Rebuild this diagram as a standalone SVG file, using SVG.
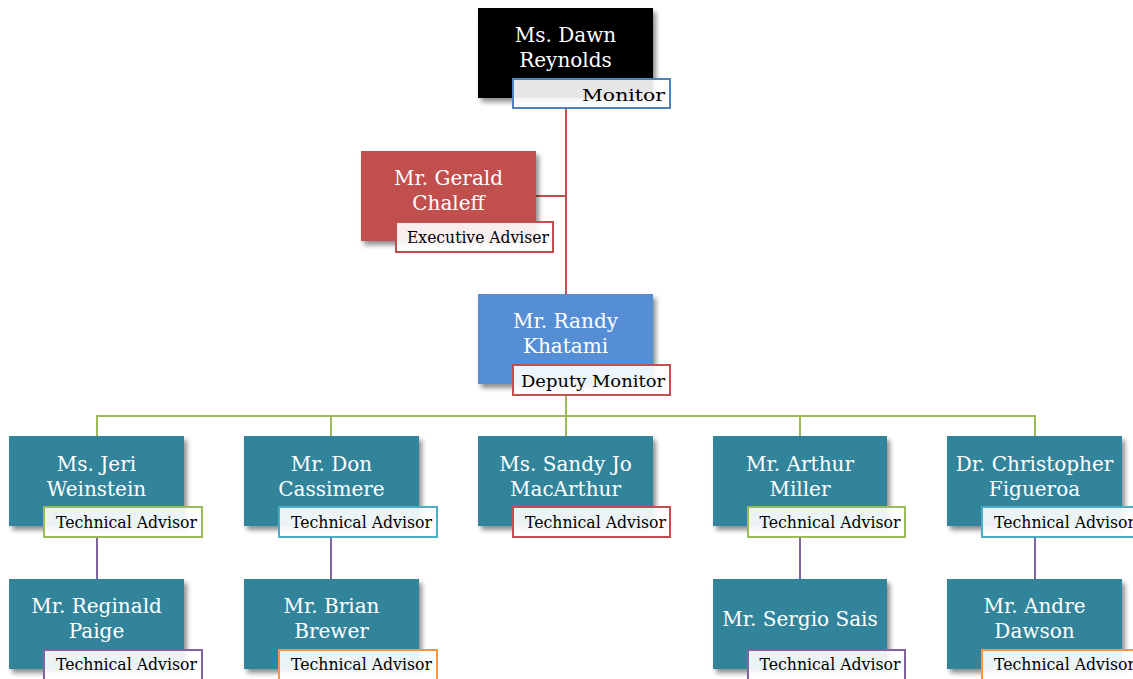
<svg xmlns="http://www.w3.org/2000/svg" width="1133" height="679" viewBox="0 0 1133 679">
<defs>
<filter id="sh" x="-10%" y="-10%" width="125%" height="130%">
<feGaussianBlur in="SourceAlpha" stdDeviation="2.5"/>
<feOffset dx="3" dy="4" result="b"/>
<feComponentTransfer><feFuncA type="linear" slope="0.45"/></feComponentTransfer>
<feMerge><feMergeNode/><feMergeNode in="SourceGraphic"/></feMerge>
</filter>
<style>
.box{filter:url(#sh)}
.teal{fill:#31849b}
.nm{font-family:"DejaVu Serif","Liberation Serif",serif;font-size:20px;fill:#ffffff;text-anchor:middle}
.lb{fill:#ffffff;fill-opacity:0.9;stroke-width:2}
.lt{font-family:"DejaVu Serif","Liberation Serif",serif;font-size:16.5px;fill:#000000;text-anchor:middle}
.con{fill:none;stroke-width:2}
</style>
</defs>
<rect width="1133" height="679" fill="#ffffff"/>
<g id="connectors">
<path class="con" stroke="#c0504d" d="M566 108V294M536 196H566"/>
<path class="con" stroke="#9bbb59" d="M566 395V416M97 436V416H1035V436M331 416V436M566 416V436M800 416V436"/>
<path class="con" stroke="#8064a2" d="M97 537V579M331 537V579M800 537V579M1035 537V579"/>
</g>
<g id="n-dawn">
<rect class="box" x="478" y="8" width="175" height="90" fill="#000000"/>
<text class="nm" x="565.5" y="42">Ms. Dawn</text>
<text class="nm" x="565.5" y="67">Reynolds</text>
<rect class="lb" x="513" y="79" width="157" height="29" stroke="#4f81bd"/>
<text class="lt" x="623.5" y="101" font-size="22" textLength="83" lengthAdjust="spacingAndGlyphs">Monitor</text>
</g>
<g id="n-gerald">
<rect class="box" x="361" y="151" width="175" height="90" fill="#c0504d"/>
<text class="nm" x="448.5" y="185">Mr. Gerald</text>
<text class="nm" x="448.5" y="210">Chaleff</text>
<rect class="lb" x="396" y="222" width="157" height="30" stroke="#c0504d"/>
<text class="lt" x="478" y="243" textLength="142" lengthAdjust="spacingAndGlyphs">Executive Adviser</text>
</g>
<g id="n-randy">
<rect class="box" x="478" y="294" width="175" height="90" fill="#558ed5"/>
<text class="nm" x="565.5" y="328">Mr. Randy</text>
<text class="nm" x="565.5" y="353">Khatami</text>
<rect class="lb" x="513" y="365" width="157" height="30" stroke="#c0504d"/>
<text class="lt" x="593" y="387" font-size="19.5" textLength="144" lengthAdjust="spacingAndGlyphs">Deputy Monitor</text>
</g>
<g id="n-jeri">
<rect class="box teal" x="9" y="436" width="175" height="90"/>
<text class="nm" x="96.5" y="471">Ms. Jeri</text>
<text class="nm" x="96.5" y="496">Weinstein</text>
<rect class="lb" x="44" y="507" width="158" height="30" stroke="#9bbb59"/>
<text class="lt" x="126.5" y="528" textLength="141" lengthAdjust="spacingAndGlyphs">Technical Advisor</text>
</g>
<g id="n-don">
<rect class="box teal" x="244" y="436" width="175" height="90"/>
<text class="nm" x="331.5" y="471">Mr. Don</text>
<text class="nm" x="331.5" y="496">Cassimere</text>
<rect class="lb" x="279" y="507" width="158" height="30" stroke="#4bacc6"/>
<text class="lt" x="361.5" y="528" textLength="141" lengthAdjust="spacingAndGlyphs">Technical Advisor</text>
</g>
<g id="n-sandy">
<rect class="box teal" x="478" y="436" width="175" height="90"/>
<text class="nm" x="565.5" y="471">Ms. Sandy Jo</text>
<text class="nm" x="565.5" y="496">MacArthur</text>
<rect class="lb" x="513" y="507" width="157" height="30" stroke="#c0504d"/>
<text class="lt" x="595.5" y="528" textLength="141" lengthAdjust="spacingAndGlyphs">Technical Advisor</text>
</g>
<g id="n-arthur">
<rect class="box teal" x="713" y="436" width="174" height="90"/>
<text class="nm" x="800" y="471">Mr. Arthur</text>
<text class="nm" x="800" y="496">Miller</text>
<rect class="lb" x="748" y="507" width="157" height="30" stroke="#9bbb59"/>
<text class="lt" x="830" y="528" textLength="141" lengthAdjust="spacingAndGlyphs">Technical Advisor</text>
</g>
<g id="n-christopher">
<rect class="box teal" x="947" y="436" width="175" height="90"/>
<text class="nm" x="1034.5" y="471">Dr. Christopher</text>
<text class="nm" x="1034.5" y="496">Figueroa</text>
<rect class="lb" x="982" y="507" width="158" height="30" stroke="#4bacc6"/>
<text class="lt" x="1064.5" y="528" textLength="141" lengthAdjust="spacingAndGlyphs">Technical Advisor</text>
</g>
<g id="n-reginald">
<rect class="box teal" x="9" y="579" width="175" height="90"/>
<text class="nm" x="96.5" y="613">Mr. Reginald</text>
<text class="nm" x="96.5" y="638">Paige</text>
<rect class="lb" x="44" y="650" width="158" height="30" stroke="#8064a2"/>
<text class="lt" x="126.5" y="670" textLength="141" lengthAdjust="spacingAndGlyphs">Technical Advisor</text>
</g>
<g id="n-brian">
<rect class="box teal" x="244" y="579" width="175" height="90"/>
<text class="nm" x="331.5" y="613">Mr. Brian</text>
<text class="nm" x="331.5" y="638">Brewer</text>
<rect class="lb" x="279" y="650" width="158" height="30" stroke="#f79646"/>
<text class="lt" x="361.5" y="670" textLength="141" lengthAdjust="spacingAndGlyphs">Technical Advisor</text>
</g>
<g id="n-sergio">
<rect class="box teal" x="713" y="579" width="174" height="90"/>
<text class="nm" x="800" y="626">Mr. Sergio Sais</text>
<rect class="lb" x="748" y="650" width="157" height="30" stroke="#8064a2"/>
<text class="lt" x="830" y="670" textLength="141" lengthAdjust="spacingAndGlyphs">Technical Advisor</text>
</g>
<g id="n-andre">
<rect class="box teal" x="947" y="579" width="175" height="90"/>
<text class="nm" x="1034.5" y="613">Mr. Andre</text>
<text class="nm" x="1034.5" y="638">Dawson</text>
<rect class="lb" x="982" y="650" width="158" height="30" stroke="#f79646"/>
<text class="lt" x="1064.5" y="670" textLength="141" lengthAdjust="spacingAndGlyphs">Technical Advisor</text>
</g>
</svg>
